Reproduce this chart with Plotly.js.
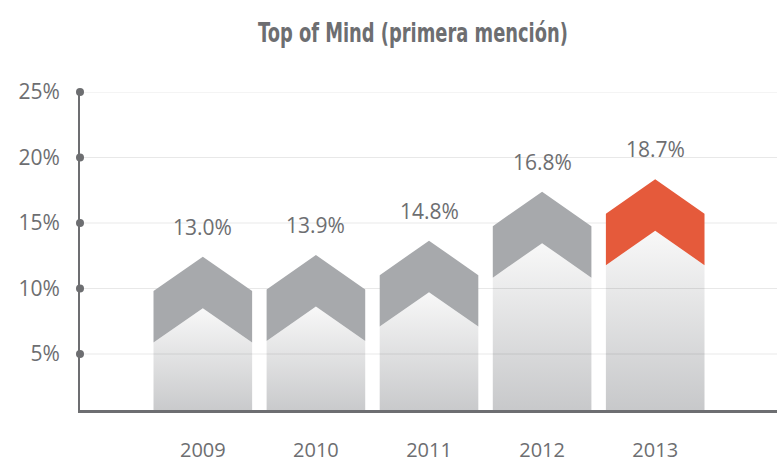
<!DOCTYPE html>
<html>
<head>
<meta charset="utf-8">
<script src="https://cdn.plot.ly/plotly-3.0.1.min.js"></script>
<style>
  html, body { margin: 0; padding: 0; background: #ffffff; }
  #chart { width: 777px; height: 462px; }
</style>
</head>
<body>
<div id="chart"></div>
<script>
// ---- data ----
const years = ['2009', '2010', '2011', '2012', '2013'];
const values = [13.0, 13.9, 14.8, 16.8, 18.7];          // labelled values (%)
const peakLevels = [12.43, 12.56, 13.65, 17.39, 18.34]; // arrow tip heights as drawn (%)
const bandColors = ['#a7a9ac', '#a7a9ac', '#a7a9ac', '#a7a9ac', '#e55a3b'];
const yTicks = [5, 10, 15, 20, 25];
const yTickText = ['5%', '10%', '15%', '20%', '25%'];

// ---- styling constants ----
const textGray = '#6d6e71';
const halfW = 0.436;     // half bar width (category units)
const drop = 2.63;       // chevron shoulder drop (% units)
const thick = 3.93;      // chevron band thickness (% units)
const xRange = [-1.086, 5.077];
const yRange = [0.725, 25];

const traces = [];

// gradient bodies
years.forEach((yr, i) => {
  const c = i, p = peakLevels[i];
  traces.push({
    type: 'scatter', mode: 'lines', fill: 'toself',
    x: [c - halfW, c - halfW, c, c + halfW, c + halfW, c - halfW],
    y: [0, p - drop - thick, p - thick, p - drop - thick, 0, 0],
    line: { width: 0, color: 'rgba(0,0,0,0)' },
    fillgradient: { type: 'vertical', colorscale: [[0, '#c5c6c8'], [1, '#f8f8f8']] },
    hoverinfo: 'skip', showlegend: false
  });
});

// gridlines (over bodies, under chevrons)
const gx = [], gy = [];
yTicks.forEach(v => { gx.push(xRange[0], xRange[1], null); gy.push(v, v, null); });
traces.push({
  type: 'scatter', mode: 'lines', x: gx, y: gy, cliponaxis: false,
  line: { width: 1, color: 'rgba(0,0,0,0.09)' },
  hoverinfo: 'skip', showlegend: false
});

// chevron bands
years.forEach((yr, i) => {
  const c = i, p = peakLevels[i];
  traces.push({
    type: 'scatter', mode: 'lines', fill: 'toself',
    x: [c - halfW, c, c + halfW, c + halfW, c, c - halfW, c - halfW],
    y: [p - drop, p, p - drop, p - drop - thick, p - thick, p - drop - thick, p - drop],
    line: { width: 0, color: 'rgba(0,0,0,0)' },
    fillcolor: bandColors[i],
    hoverinfo: 'skip', showlegend: false
  });
});

// axis dots
traces.push({
  type: 'scatter', mode: 'markers', cliponaxis: false,
  x: yTicks.map(() => xRange[0]), y: yTicks,
  marker: { size: 8, color: textGray },
  hoverinfo: 'skip', showlegend: false
});

const annotations = years.map((yr, i) => ({
  x: i, y: peakLevels[i], xref: 'x', yref: 'y',
  text: values[i].toFixed(1) + '%', showarrow: false,
  yanchor: 'middle', yshift: 30,
  font: { family: 'Open Sans, sans-serif', size: 21, color: textGray }
}));

const titleCenterX = 413, titleWidth = 310;

const layout = {
  width: 777, height: 462,
  margin: { l: 80, r: 0, t: 92, b: 52 },
  paper_bgcolor: '#ffffff', plot_bgcolor: '#ffffff',
  title: {
    text: 'Top of Mind (primera mención)',
    x: titleCenterX / 777, xref: 'container', xanchor: 'center',
    y: 1 - 33 / 462, yref: 'container', yanchor: 'middle',
    font: { family: 'DejaVu Sans Condensed, DejaVu Sans, sans-serif', size: 27, weight: 'bold', color: textGray }
  },
  xaxis: {
    range: xRange, fixedrange: true,
    tickvals: years.map((y, i) => i), ticktext: years,
    showgrid: false, zeroline: false,
    showline: true, linecolor: textGray, linewidth: 2.5,
    ticks: '', ticklabelstandoff: 20,
    tickfont: { family: 'Open Sans, sans-serif', size: 20, color: textGray }
  },
  yaxis: {
    range: yRange, fixedrange: true,
    tickvals: yTicks, ticktext: yTickText,
    showgrid: false, zeroline: false,
    showline: true, linecolor: textGray, linewidth: 2,
    ticks: '', ticklabelstandoff: 14,
    tickfont: { family: 'Open Sans, sans-serif', size: 21, color: textGray }
  },
  annotations: annotations,
  showlegend: false,
  hovermode: false
};

Plotly.newPlot('chart', traces, layout, { displayModeBar: false, staticPlot: true }).then(gd => {
  // condense the title horizontally, like the reference's condensed typeface
  const t = gd.querySelector('.gtitle');
  if (t) {
    const bb = t.getBBox();
    if (bb.width > 0) {
      const sx = titleWidth / bb.width;
      const cx = bb.x + bb.width / 2;
      t.setAttribute('transform', 'translate(' + titleCenterX + ',0) scale(' + sx + ',1) translate(' + (-cx) + ',0)');
    }
  }
});
</script>
</body>
</html>
